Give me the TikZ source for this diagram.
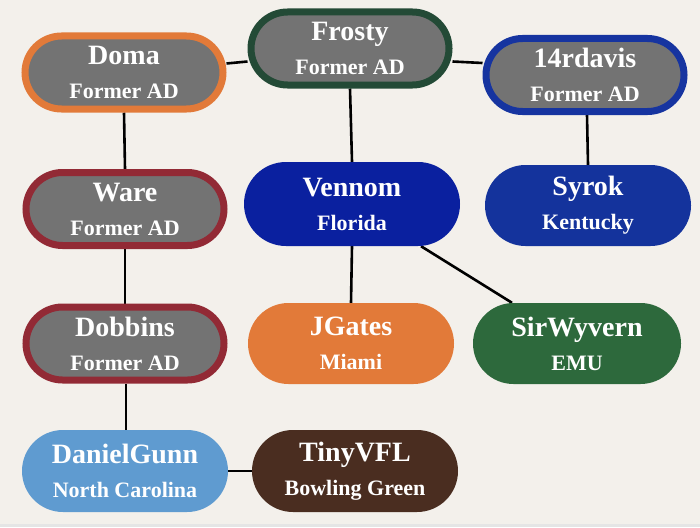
\documentclass[tikz,border=0pt]{standalone}
\usepackage{fontspec}
\setmainfont{Liberation Serif}
\usetikzlibrary{shapes.misc,calc,backgrounds}
\definecolor{bg}{HTML}{F3F0EB}
\definecolor{grayfill}{HTML}{737373}
\definecolor{cOrange}{HTML}{E27A39}
\definecolor{cDkGreen}{HTML}{234A36}
\definecolor{cBlueB}{HTML}{1634A0}
\definecolor{cRed}{HTML}{922A35}
\definecolor{cVen}{HTML}{0A209F}
\definecolor{cSyr}{HTML}{14339C}
\definecolor{cGreen}{HTML}{2D693C}
\definecolor{cLBlue}{HTML}{5F9BD0}
\definecolor{cBrown}{HTML}{4A2D20}
\tikzset{
  person/.style={rounded rectangle, minimum width=206pt, minimum height=81pt,
    inner sep=0pt, text=white, align=center,
    font=\bfseries\fontsize{22}{34}\selectfont},
  adbox/.style={person, fill=grayfill, draw=#1, line width=7pt,
    minimum width=198pt, minimum height=73pt},
  link/.style={line width=2.6pt, black},
}
\newcommand{\two}[2]{{\fontsize{28}{34}\selectfont #1}\\#2}
\begin{document}
\begin{tikzpicture}[x=1pt,y=-1pt]
\begin{scope}[on background layer]
\fill[bg] (0,0) rectangle (700,527);
\fill[black!10] (0,524) rectangle (700,527);
\end{scope}
\useasboundingbox (0,0) rectangle (700,527);
% nodes
\node[adbox=cOrange] (doma) at (124,72.5) {\two{Doma}{Former AD}};
\node[adbox=cDkGreen] (frosty) at (350,48.5) {\two{Frosty}{Former AD}};
\node[adbox=cBlueB] (davis) at (585,75) {\two{14rdavis}{Former AD}};
\node[adbox=cRed] (ware) at (125,209) {\two{Ware}{Former AD}};
\node[person, fill=cVen, minimum width=216pt, minimum height=84pt] (ven) at (352,204) {\two{Vennom}{Florida}};
\node[person, fill=cSyr] (syrok) at (588,205.5) {\two{Syrok}{Kentucky}};
\node[adbox=cRed] (dob) at (125,343.5) {\two{Dobbins}{Former AD}};
\node[person, fill=cOrange] (jg) at (351,343.5) {\two{JGates}{Miami}};
\node[person, fill=cGreen, minimum width=208pt] (sir) at (577,343.5) {\two{SirWyvern}{EMU}};
\node[person, fill=cLBlue, minimum height=82pt] (dg) at (125,471) {\two{DanielGunn}{North Carolina}};
\node[person, fill=cBrown, minimum height=82pt] (tiny) at (355,471) {\two{TinyVFL}{Bowling Green}};
% links
\begin{scope}[on background layer]
\draw[link] ([yshift=9pt]doma.east) -- ([yshift=-13pt]frosty.west);
\draw[link] ([yshift=-13pt]frosty.east) -- ([yshift=12pt]davis.west);
\draw[link] (doma.south) -- (ware.north);
\draw[link] (ware.south) -- (dob.north);
\draw[link] ([xshift=1pt]dob.south) -- ([xshift=1pt]dg.north);
\draw[link] (dg.east) -- (tiny.west);
\draw[link] (frosty.south) -- (ven.north);
\draw[link] ([xshift=2pt]davis.south) -- (syrok.north);
\draw[link] (ven.south) -- (jg.north);
\draw[link] ([xshift=69pt]ven.south) -- ([xshift=-65pt]sir.north);
\end{scope}
\end{tikzpicture}
\end{document}
